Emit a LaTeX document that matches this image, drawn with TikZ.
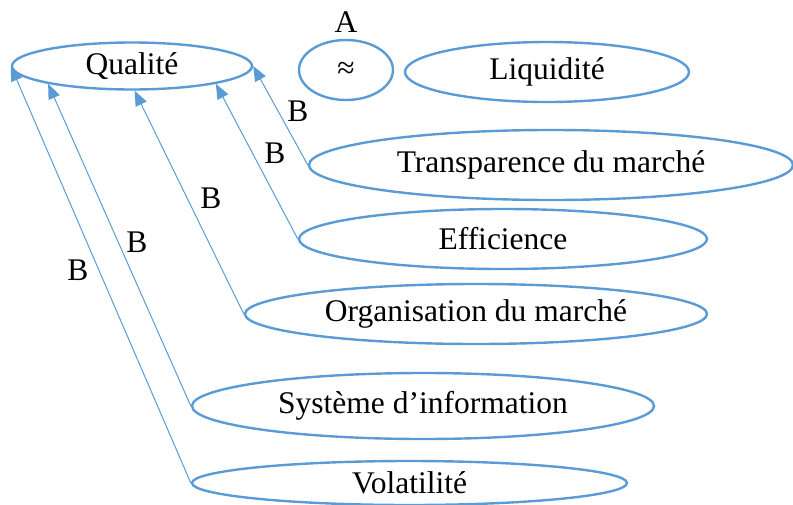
\documentclass[tikz,border=0pt]{standalone}
\usepackage{fontspec}
\setmainfont{Liberation Serif}
\usetikzlibrary{shapes.geometric,arrows.meta}
\definecolor{lineblue}{HTML}{5B9BD5}
\tikzset{
  oval/.style={ellipse,draw=lineblue,line width=2.4pt,inner sep=0pt,
    font=\fontsize{31.5}{36}\selectfont},
  lbl/.style={inner sep=0pt,font=\fontsize{31.5}{36}\selectfont},
  link/.style={draw=lineblue,line width=1pt,
    -{Triangle[length=15pt,width=12pt,fill=lineblue]}}
}
\begin{document}
\begin{tikzpicture}[x=1pt,y=-1pt]
\useasboundingbox (0,0) rectangle (793,504);
\node[oval,minimum width=240pt,minimum height=47pt] (qual) at (132,66) {Qualité};
\node[oval,minimum width=94pt,minimum height=60pt] (approx) at (346,70) {\raisebox{-3pt}{≈}};
\node[lbl] (A) at (346,22) {A};
\node[oval,minimum width=284pt,minimum height=60pt] (liq) at (547,72) {Liquidité};
\node[oval,minimum width=484pt,minimum height=70pt] (trans) at (551,165) {Transparence du marché};
\node[oval,minimum width=408pt,minimum height=60pt] (eff) at (503,239) {Efficience};
\node[oval,minimum width=462pt,minimum height=60pt] (org) at (476,314) {Organisation du marché};
\node[oval,minimum width=462pt,minimum height=66pt] (sys) at (423,406) {Système d’information};
\node[oval,minimum width=435pt,minimum height=44pt] (vol) at (409.5,483) {\raisebox{-3pt}{Volatilité}};
\draw[link] (trans.west) -- (qual.east);
\draw[link] (eff.west) -- (qual.-12);
\draw[link] (org.west) -- (qual.-84);
\draw[link] (sys.west) -- (qual.-168.6);
\draw[link] (vol.west) -- (qual.west);
\node[lbl] (b1) at (298,111) {B};
\node[lbl] (b2) at (275,153) {B};
\node[lbl] (b3) at (211,198) {B};
\node[lbl] (b4) at (137,242) {B};
\node[lbl] (b5) at (78,270) {B};
\end{tikzpicture}
\end{document}
